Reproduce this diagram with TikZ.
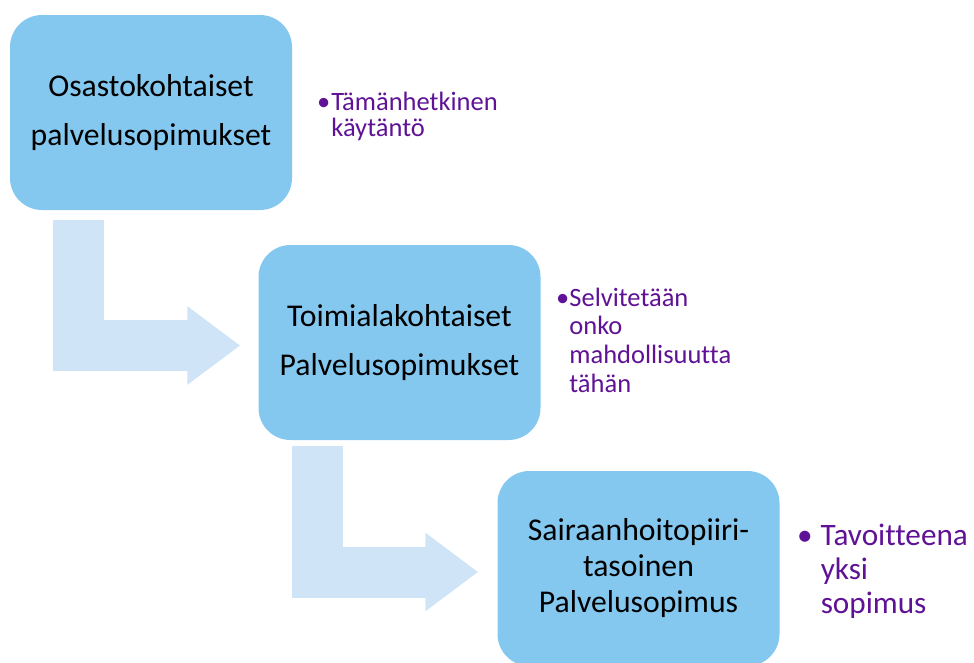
\documentclass[tikz,border=0pt]{standalone}
\usepackage{fontspec}
\setmainfont{Carlito}[Ligatures=NoCommon]
\usetikzlibrary{arrows.meta,positioning}
\definecolor{boxblue}{HTML}{84C8F0}
\definecolor{arrowblue}{HTML}{CFE5F7}
\definecolor{notepurple}{HTML}{5F1295}
\newcommand{\purple}[1]{\textcolor{notepurple}{#1}}
\newcommand{\bulnote}[2]{\begin{tabular}[t]{@{}l@{\hspace{#1}}l@{}}#2\end{tabular}}

\begin{document}
\begin{tikzpicture}[x=1pt, y=-1pt,
    stage/.style={rectangle, rounded corners=32pt, fill=boxblue, minimum width=282pt,
      minimum height=195pt, inner sep=0pt, align=center},
    turn/.style={draw=arrowblue, line width=51pt, -{Triangle[length=53pt, width=75pt]}},
    note/.style={anchor=base west, inner sep=0pt}]
        \useasboundingbox (0,0) rectangle (974,662);
        %boxes
        \node[stage, font=\fontsize{31.7}{49}\selectfont] (osasto) at (151, 112.5) {Osastokohtaiset\\palvelusopimukset};
        \node[stage, font=\fontsize{31.7}{49}\selectfont] (toimiala) at (399.5, 342.5) {Toimialakohtaiset\\Palvelusopimukset};
        \node[stage, font=\fontsize{31.7}{36}\selectfont] (sairaus) at (638.5, 568.5) {Sairaanhoitopiiri-\\tasoinen\\Palvelusopimus};
        %arrows
        \draw[turn, shorten >=18pt] ([xshift=-72.5pt, yshift=-10pt]osasto.south) |- ([yshift=-3pt]toimiala.west);
        \draw[turn, shorten >=19pt] ([xshift=-82pt, yshift=-6pt]toimiala.south) |- ([yshift=-3.5pt]sairaus.west);
        %notes
        \node[note, font=\fontsize{26.5}{26}\selectfont] (nyt) at (317, 110) {\purple{\bulnote{1pt}{•&Tämänhetkinen\\&käytäntö}}};
        \node[note, font=\fontsize{26.5}{28.7}\selectfont] (selvitys) at (556, 306) {\purple{\bulnote{0pt}{•&Selvitetään\\&onko\\&mahdollisuutta\\&tähän}}};
        \node[note, font=\fontsize{31.2}{34}\selectfont] (tavoite) at (797, 545) {\purple{\bulnote{8pt}{•&Tavoitteena\\&yksi\\&sopimus}}};
      \end{tikzpicture}
\end{document}
